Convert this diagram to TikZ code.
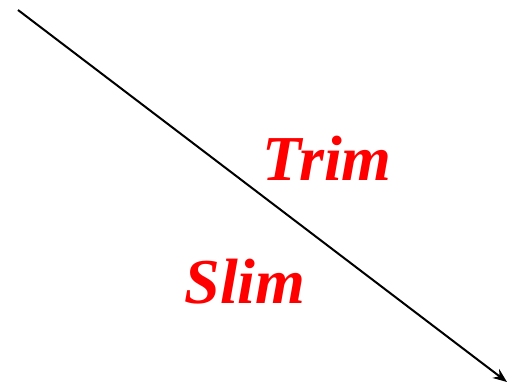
\documentclass[tikz,border=0pt]{standalone}
\usepackage{fontspec}
\setmainfont{Liberation Serif}
\usetikzlibrary{arrows.meta}
\begin{document}
\begin{tikzpicture}[x=1pt,y=-1pt,
  lbl/.style={text=red,font=\fontsize{64}{64}\selectfont\bfseries\itshape,anchor=base,inner sep=0pt}]
\useasboundingbox (0,0) rectangle (507,388);
\coordinate (s) at (18,10);
\coordinate (e) at (507,382);
\draw[line width=2pt,-{Stealth[length=14pt,width=11pt]}] (s) -- (e);
\node[lbl] (trim) at (327,180) {Trim};
\node[lbl] (slim) at (245,303) {Slim};
\end{tikzpicture}
\end{document}
